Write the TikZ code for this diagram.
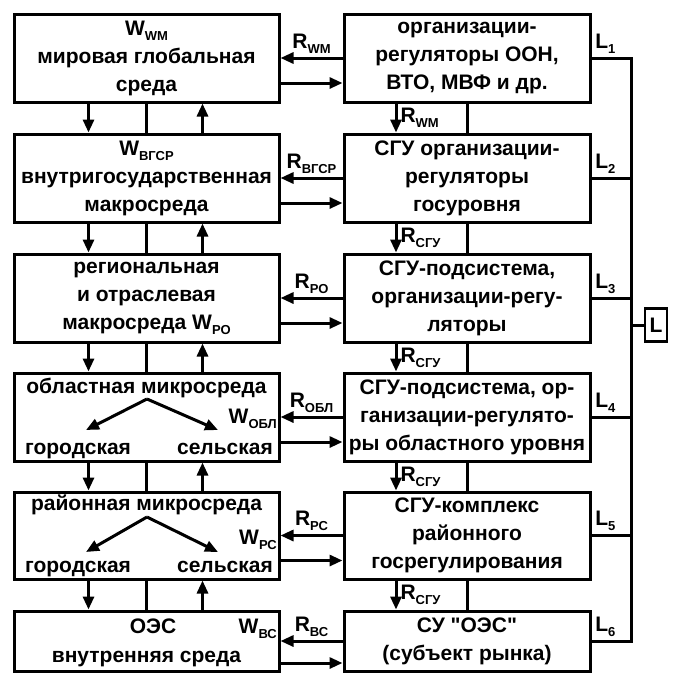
\documentclass[tikz,border=0pt]{standalone}
\usepackage{fontspec}
\setmainfont{Liberation Sans}
\usetikzlibrary{arrows.meta}
\newcommand{\idx}[1]{\raisebox{-5pt}{\fontsize{13}{13}\selectfont #1}}

\begin{document}
\begin{tikzpicture}[x=1pt, y=-1pt,
    font=\fontsize{21}{28}\selectfont\bfseries,
    box/.style={draw, line width=3pt, minimum width=265pt, minimum height=88pt, inner sep=0pt, align=center},
    rbox/.style={box, minimum width=246pt},
    arr/.style={line width=3pt, -{Triangle[length=13pt,width=11pt]}},
    lnk/.style={line width=3pt},
    rlab/.style={above=3pt, inner sep=0pt},
    vlab/.style={right=3pt, inner sep=0pt},
    llab/.style={above=3pt, inner sep=0pt, pos=0.35}]
    \useasboundingbox (0,0) rectangle (682,673);

    \coordinate (bus) at (631,0);

    \node[box] (w1) at (146.5,58) {W\idx{WM}\\мировая глобальная\\среда};
    \node[box] (w2) at (146.5,178) {W\idx{ВГСР}\\внутригосударственная\\макросреда};
    \node[box] (w3) at (146.5,298) {региональная\\и отраслевая\\макросреда W\idx{РО}};
    \node[box] (w4) at (146.5,417) {};
    \node[box, minimum height=87pt] (w5) at (146.5,535.5) {};
    \node[box, minimum height=60pt] (w6) at (146.5,641) {};

    \node[rbox] (r1) at (467,58) {организации-\\регуляторы ООН,\\ВТО, МВФ и др.};
    \node[rbox] (r2) at (467,178) {СГУ организации-\\регуляторы\\госуровня};
    \node[rbox] (r3) at (467,298) {СГУ-подсистема,\\организации-регу-\\ляторы};
    \node[rbox] (r4) at (467,417) {СГУ-подсистема, ор-\\ганизации-регулято-\\ры областного уровня};
    \node[rbox, minimum height=87pt] (r5) at (467,535.5) {СГУ-комплекс\\районного\\госрегулирования};
    \node[rbox, minimum height=60pt] (r6) at (467,641) {СУ \textquotedbl ОЭС\textquotedbl\\(субъект рынка)};

    \node[anchor=base] (t4) at (146.5,393) {областная микросреда};
    \node[anchor=base] (gor4) at (78,454) {городская};
    \node[anchor=base] (sel4) at (225,454) {сельская};
    \node[anchor=base east, inner sep=1pt] (wobl) at (278,423) {W\idx{ОБЛ}};
    \coordinate (o4) at (147,399);
    \coordinate (g4) at (86,430);
    \coordinate (s4) at (218,430);
    \draw[arr] (o4) -- (g4);
    \draw[arr] (o4) -- (s4);

    \node[anchor=base] (t5) at (146.5,510) {районная микросреда};
    \node[anchor=base] (gor5) at (78,572) {городская};
    \node[anchor=base] (sel5) at (225,572) {сельская};
    \node[anchor=base east, inner sep=1pt] (wrs) at (278,544) {W\idx{РС}};
    \coordinate (o5) at (147,517);
    \coordinate (g5) at (86,552);
    \coordinate (s5) at (218,552);
    \draw[arr] (o5) -- (g5);
    \draw[arr] (o5) -- (s5);

    \node[anchor=base] (t6) at (153,633) {ОЭС};
    \node[anchor=base] (t6b) at (146.5,662) {внутренняя среда};
    \node[anchor=base east, inner sep=1pt] (wvs) at (278,633) {W\idx{ВС}};

    \draw[arr] (r1.west) -- node[rlab] {R\idx{WM}} (w1.east);
    \draw[arr] ([yshift=-25pt]w1.east) -- ([yshift=-25pt]r1.west);
    \draw[arr] (r2.west) -- node[rlab] {R\idx{ВГСР}} (w2.east);
    \draw[arr] ([yshift=-25pt]w2.east) -- ([yshift=-25pt]r2.west);
    \draw[arr] (r3.west) -- node[rlab] {R\idx{РО}} (w3.east);
    \draw[arr] ([yshift=-25pt]w3.east) -- ([yshift=-25pt]r3.west);
    \draw[arr] (r4.west) -- node[rlab] {R\idx{ОБЛ}} (w4.east);
    \draw[arr] ([yshift=-25pt]w4.east) -- ([yshift=-25pt]r4.west);
    \draw[arr] (r5.west) -- node[rlab] {R\idx{РС}} (w5.east);
    \draw[arr] ([yshift=-25pt]w5.east) -- ([yshift=-25pt]r5.west);
    \draw[arr] (r6.west) -- node[rlab] {R\idx{ВС}} (w6.east);
    \draw[arr] ([yshift=-22pt]w6.east) -- ([yshift=-22pt]r6.west);

    \draw[arr] ([xshift=-58pt]w1.south) -- ([xshift=-58pt]w2.north);
    \draw[lnk] (w1.south) -- (w2.north);
    \draw[arr] ([xshift=56pt]w2.north) -- ([xshift=56pt]w1.south);
    \draw[arr] ([xshift=-58pt]w2.south) -- ([xshift=-58pt]w3.north);
    \draw[lnk] (w2.south) -- (w3.north);
    \draw[arr] ([xshift=56pt]w3.north) -- ([xshift=56pt]w2.south);
    \draw[arr] ([xshift=-58pt]w3.south) -- ([xshift=-58pt]w4.north);
    \draw[lnk] (w3.south) -- (w4.north);
    \draw[arr] ([xshift=56pt]w4.north) -- ([xshift=56pt]w3.south);
    \draw[arr] ([xshift=-58pt]w4.south) -- ([xshift=-58pt]w5.north);
    \draw[lnk] (w4.south) -- (w5.north);
    \draw[arr] ([xshift=56pt]w5.north) -- ([xshift=56pt]w4.south);
    \draw[arr] ([xshift=-58pt]w5.south) -- ([xshift=-58pt]w6.north);
    \draw[lnk] (w5.south) -- (w6.north);
    \draw[arr] ([xshift=56pt]w6.north) -- ([xshift=56pt]w5.south);

    \draw[arr] ([xshift=-71pt]r1.south) -- node[vlab] {R\idx{WM}} ([xshift=-71pt]r2.north);
    \draw[lnk] (r1.south) -- (r2.north);
    \draw[arr] ([xshift=-71pt]r2.south) -- node[vlab] {R\idx{СГУ}} ([xshift=-71pt]r3.north);
    \draw[lnk] (r2.south) -- (r3.north);
    \draw[arr] ([xshift=-71pt]r3.south) -- node[vlab] {R\idx{СГУ}} ([xshift=-71pt]r4.north);
    \draw[lnk] (r3.south) -- (r4.north);
    \draw[arr] ([xshift=-71pt]r4.south) -- node[vlab] {R\idx{СГУ}} ([xshift=-71pt]r5.north);
    \draw[lnk] (r4.south) -- (r5.north);
    \draw[arr] ([xshift=-71pt]r5.south) -- node[vlab] {R\idx{СГУ}} ([xshift=-71pt]r6.north);
    \draw[lnk] (r5.south) -- (r6.north);

    \draw[lnk] (r1.east) -- node[llab] {L\idx{1}} (r1.east -| bus) -- (r6.east -| bus) -- node[llab, pos=0.65] {L\idx{6}} (r6.east);
    \draw[lnk] (r2.east) -- node[llab] {L\idx{2}} (r2.east -| bus);
    \draw[lnk] (r3.east) -- node[llab] {L\idx{3}} (r3.east -| bus);
    \draw[lnk] (r4.east) -- node[llab] {L\idx{4}} (r4.east -| bus);
    \draw[lnk] (r5.east) -- node[llab] {L\idx{5}} (r5.east -| bus);

    \node[draw, line width=2.8pt, minimum width=22pt, minimum height=33pt, inner sep=0pt] (L) at (656,325) {L};
    \draw[lnk] (L.west) -- (L.west -| bus);
\end{tikzpicture}
\end{document}
